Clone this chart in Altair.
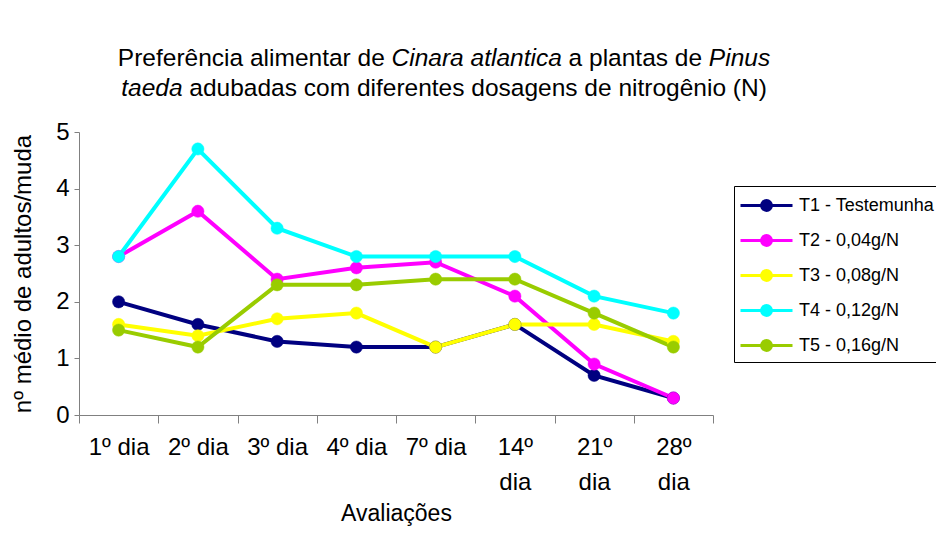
import altair as alt
import pandas as pd

dias = ["1º dia", "2º dia", "3º dia", "4º dia", "7º dia", "14º dia", "21º dia", "28º dia"]
series = ["T1 - Testemunha", "T2 - 0,04g/N", "T3 - 0,08g/N", "T4 - 0,12g/N", "T5 - 0,16g/N"]
t1 = [2.0, 1.6, 1.3, 1.2, 1.2, 1.6, 0.7, 0.3]
t2 = [2.8, 3.6, 2.4, 2.6, 2.7, 2.1, 0.9, 0.3]
t3 = [1.6, 1.4, 1.7, 1.8, 1.2, 1.6, 1.6, 1.3]
t4 = [2.8, 4.7, 3.3, 2.8, 2.8, 2.8, 2.1, 1.8]
t5 = [1.5, 1.2, 2.3, 2.3, 2.4, 2.4, 1.8, 1.2]
colors = ["#000080", "#FF00FF", "#FFFF00", "#00FFFF", "#99CC00"]

rows = []
for k, (s, vals) in enumerate(zip(series, [t1, t2, t3, t4, t5])):
    for i, (d, v) in enumerate(zip(dias, vals)):
        rows.append({"dia": d, "valor": v, "serie": s, "ordem": i, "sidx": k})
df = pd.DataFrame(rows)

FONT = "Liberation Sans"

# Arial / Liberation Sans advance widths (per 1000 em) for title layout
W = {' ': 278, '(': 333, ')': 333, 'N': 722, 'P': 667, 'C': 722, 'a': 556, 'b': 556,
     'c': 500, 'd': 556, 'e': 556, 'f': 278, 'g': 556, 'i': 222, 'l': 222, 'm': 833,
     'n': 556, 'o': 556, 'p': 556, 'r': 333, 's': 500, 't': 278, 'u': 556, 'ê': 556}


def tw(s, fs):
    return sum(W.get(ch, 556) for ch in s) * fs / 1000.0


TFS = 24.5
line1 = [("Preferência alimentar de ", "normal"), ("Cinara atlantica", "italic"),
         (" a plantas de ", "normal"), ("Pinus", "italic")]
line2 = [("taeda", "italic"), (" adubadas com diferentes dosagens de nitrogênio (N)", "normal")]

PLOT_LEFT = 79
TITLE_CENTER = 444 - PLOT_LEFT
title_layers = []
for segs, ypos in [(line1, -73), (line2, -43)]:
    total = sum(tw(s, TFS) for s, _ in segs)
    xcur = TITLE_CENTER - total / 2
    for s, style in segs:
        lead = len(s) - len(s.lstrip(' '))
        xs = xcur + tw(' ' * lead, TFS)
        title_layers.append(
            alt.Chart(pd.DataFrame({"t": [s.strip()]}))
            .mark_text(align="left", baseline="middle", fontSize=TFS, font=FONT,
                       fontStyle=style, color="black")
            .encode(text="t:N", x=alt.value(xs), y=alt.value(ypos))
        )
        xcur += tw(s, TFS)

x_enc = alt.X(
    "dia:N", sort=dias, bandPosition=0.5,
    scale=alt.Scale(type="band", paddingInner=0, paddingOuter=0),
    axis=alt.Axis(
        title="Avaliações", labelAngle=0, tickBand="extent", tickSize=8,
        labelFontSize=24, labelFont=FONT, labelColor="black", labelLineHeight=35,
        labelExpr="length(datum.label) > 6 ? split(datum.label, ' ') : datum.label",
        labelPadding=12, labelOverlap=False, titlePadding=8,
        titleFontSize=23, titleFont=FONT, titleFontWeight="normal", titleColor="black",
        domainColor="#808080", tickColor="#808080", grid=False,
    ),
)
y_enc = alt.Y(
    "valor:Q",
    scale=alt.Scale(domain=[0, 5], nice=False),
    axis=alt.Axis(
        values=[0, 1, 2, 3, 4, 5], title="nº médio de adultos/muda", grid=False,
        tickSize=5, labelFontSize=24, labelFont=FONT, labelColor="black", labelPadding=5,
        titleFontSize=24, titleFont=FONT, titleFontWeight="normal", titleColor="black",
        titlePadding=20, domainColor="#808080", tickColor="#808080",
    ),
)

# legend symbol: a line with a dot in its middle (path units = 13px at size 676)
legend = alt.Legend(
    orient="none", legendX=655, legendY=54, title=None,
    symbolType="M-1,0L3,0M0.62,0A0.38,0.38,0,1,1,1.38,0A0.38,0.38,0,1,1,0.62,0Z",
    symbolSize=676, symbolStrokeWidth=3,
    labelFontSize=18, labelFont=FONT, labelColor="black", labelLimit=400, labelOffset=31,
    strokeColor="black", fillColor="white", padding=5, rowPadding=9,
)

scale = alt.Scale(domain=series, range=colors)

lines = alt.Chart(df).mark_line(strokeWidth=4).encode(
    x=x_enc, y=y_enc, color=alt.Color("serie:N", sort=series, scale=scale, legend=legend),
    order="ordem:Q",
)
points = alt.Chart(df).mark_point(filled=True, size=150, opacity=1, strokeWidth=0.5).encode(
    x=x_enc, y=y_enc,
    fill=alt.Fill("serie:N", sort=series, scale=scale, legend=None),
    stroke=alt.Stroke("serie:N", sort=series, scale=scale, legend=None),
    order="sidx:Q",
)

chart = alt.layer(lines, points, *title_layers).properties(
    width=634, height=283,
    autosize=alt.AutoSizeParams(type="none"),
    padding={"left": 71, "top": 124, "right": 223, "bottom": 111},
    background="white",
).configure_view(stroke=None)

chart.save("out.html", embed_options={"renderer": "svg", "actions": False})
